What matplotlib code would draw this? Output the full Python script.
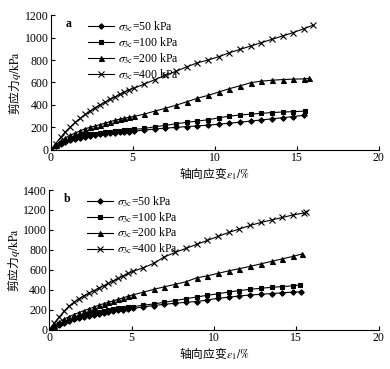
import numpy as np
import matplotlib
matplotlib.use('Agg')
import matplotlib.pyplot as plt

plt.rcParams['font.family'] = ['Liberation Serif', 'Noto Sans CJK SC']
plt.rcParams['mathtext.fontset'] = 'stix'

# common strain grid (%)
x_early = [0, 0.3, 0.6, 0.9, 1.2, 1.5, 1.8, 2.1, 2.4, 2.7, 3.0, 3.3, 3.6, 3.9, 4.2, 4.5, 4.8, 5.1]
x_late = [5.7, 6.35, 7.0, 7.65, 8.3, 8.95, 9.6, 10.25, 10.9, 11.55, 12.2, 12.85, 13.5, 14.15, 14.8]

# panel a
a50_x = x_early + x_late + [15.45]
a50_y = [0, 30, 52, 70, 85, 97, 108, 117, 125, 132, 138, 143, 148, 152, 156, 160, 163, 167,
         175, 185, 193, 200, 207, 213, 220, 228, 237, 246, 256, 266, 276, 286, 296, 308]
a100_x = x_early + x_late + [15.5]
a100_y = [0, 35, 60, 80, 95, 108, 120, 130, 138, 145, 150, 155, 160, 165, 170, 175, 178, 182,
          190, 205, 218, 232, 245, 256, 268, 285, 300, 310, 318, 325, 332, 337, 340, 345]
a200_x = x_early + x_late + [15.45, 15.75]
a200_y = [0, 40, 75, 105, 130, 150, 170, 188, 200, 212, 225, 237, 250, 262, 272, 282, 290, 298,
          318, 345, 370, 398, 428, 460, 485, 515, 545, 570, 598, 612, 620, 626, 630, 632, 636]
a400_x = x_early + x_late + [15.45, 16.0]
a400_y = [0, 55, 110, 160, 205, 245, 280, 315, 345, 375, 400, 425, 450, 470, 495, 515, 535, 550,
          585, 625, 665, 700, 740, 775, 800, 830, 865, 895, 925, 955, 985, 1015, 1045, 1080, 1110]

# panel b
b50_x = x_early + x_late + [15.3]
b50_y = [0, 28, 52, 72, 90, 105, 118, 130, 141, 151, 161, 170, 179, 187, 195, 202, 208, 214,
         228, 242, 255, 265, 275, 282, 298, 315, 325, 338, 348, 355, 362, 370, 376, 381]
b100_x = x_early + x_late + [15.2]
b100_y = [0, 30, 55, 78, 98, 115, 130, 143, 155, 166, 176, 186, 196, 205, 213, 220, 226, 232,
          245, 258, 275, 292, 310, 328, 345, 360, 378, 392, 405, 415, 425, 432, 440, 448]
b200_x = x_early + x_late + [15.32]
b200_y = [0, 40, 75, 105, 130, 152, 172, 190, 208, 225, 245, 260, 275, 290, 305, 320, 335, 350,
          375, 405, 430, 455, 480, 520, 540, 565, 590, 612, 635, 660, 685, 710, 735, 758]
b400_x = x_early + x_late + [15.45, 15.6]
b400_y = [0, 65, 125, 185, 235, 275, 310, 340, 365, 390, 415, 440, 465, 490, 515, 540, 565, 585,
          620, 665, 730, 775, 815, 855, 895, 935, 975, 1010, 1045, 1075, 1100, 1125, 1150, 1170, 1176]

labels = [r'$\sigma_{\rm 3c}$=50 kPa', r'$\sigma_{\rm 3c}$=100 kPa',
          r'$\sigma_{\rm 3c}$=200 kPa', r'$\sigma_{\rm 3c}$=400 kPa']
markers = ['D', 's', '^', 'x']
msizes = [2.8, 3.2, 3.6, 4.0]

fig = plt.figure(figsize=(3.9, 3.69), dpi=100)
ax1 = fig.add_axes([0.130, 0.594, 0.841, 0.365])
ax2 = fig.add_axes([0.126, 0.1065, 0.845, 0.3785])

panels = [
    (ax1, [(a50_x, a50_y), (a100_x, a100_y), (a200_x, a200_y), (a400_x, a400_y)], 'a', 1200),
    (ax2, [(b50_x, b50_y), (b100_x, b100_y), (b200_x, b200_y), (b400_x, b400_y)], 'b', 1400),
]

for ax, series, tag, ymax in panels:
    for (xs, ys), lab, m, ms in zip(series, labels, markers, msizes):
        ax.plot(xs, ys, color='black', lw=0.8, marker=m, ms=ms, mew=0.8, label=lab)
    ax.set_xlim(0, 20)
    ax.set_ylim(0, ymax)
    ax.set_xticks([0, 5, 10, 15, 20])
    ax.set_yticks(np.arange(0, ymax + 1, 200))
    ax.spines['top'].set_visible(False)
    ax.spines['right'].set_visible(False)
    ax.tick_params(direction='in', length=3, width=0.8, labelsize=8.5, pad=1.5)
    # CJK font as base so the non-math part has glyphs
    ax.set_ylabel(r'剪应力$q/\mathrm{kPa}$', fontsize=8.5, labelpad=1,
                  family='Noto Sans CJK SC')
    ax.set_xlabel(r'轴向应变$\varepsilon_1/\%$', fontsize=8.5, labelpad=1,
                  family='Noto Sans CJK SC')
    ax.text(0.045, 0.935, tag, transform=ax.transAxes, fontsize=8.5, fontweight='bold',
            va='center', ha='left')
    ax.legend(loc='upper left', bbox_to_anchor=(0.09, 1.03), frameon=False, fontsize=8.5,
              handlelength=2.2, handletextpad=0.3, labelspacing=0.12, borderpad=0.2)

fig.savefig('out.png', dpi=100)
